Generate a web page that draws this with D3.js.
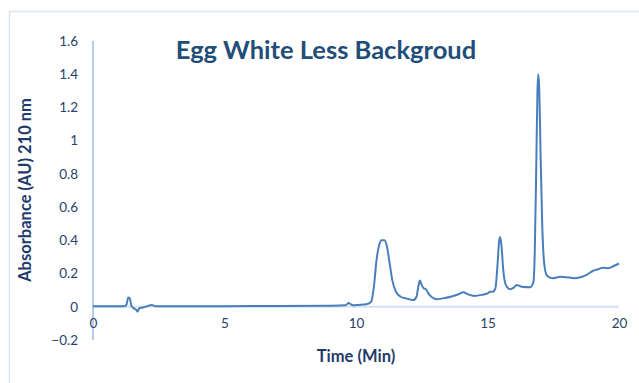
<!DOCTYPE html>
<html><head><meta charset="utf-8">
<script src="https://cdn.jsdelivr.net/npm/d3@7"></script>
<style>html,body{margin:0;padding:0;background:#fff;}svg{display:block;}</style>
</head><body>
<svg id="chart" width="639" height="383"></svg>
<script>
const title = "Egg White Less Backgroud";
const xLabel = "Time (Min)";
const yLabel = "Absorbance (AU) 210 nm";
const xTicks = [0, 5, 10, 15, 20];
const yTicks = [-0.2, 0, 0.2, 0.4, 0.6, 0.8, 1, 1.2, 1.4, 1.6];
const times = [0, 1.2, 1.28, 1.34, 1.40, 1.46, 1.55, 1.65, 1.70, 1.75, 1.9, 2.1, 2.23, 2.4, 3, 5, 7, 9, 9.6, 9.72, 9.8, 9.9, 10.0,
  10.4, 10.58, 10.68, 10.78, 10.88, 10.98, 11.08, 11.18, 11.28, 11.38, 11.52, 11.7, 11.9, 12.18, 12.30, 12.38, 12.43, 12.50, 12.58, 12.66, 12.75, 12.9, 13.07,
  13.3, 13.6, 13.9, 14.08, 14.25, 14.5, 14.8, 15.0, 15.1, 15.2, 15.3, 15.38, 15.44, 15.48, 15.53, 15.60, 15.70, 15.86, 16.0, 16.11, 16.3, 16.62,
  16.70, 16.75, 16.80, 16.85, 16.90, 16.93, 16.97, 17.02, 17.08, 17.15, 17.25, 17.38, 17.5, 17.76, 18.0, 18.3, 18.6, 18.8, 19.0, 19.2, 19.4, 19.6, 19.8, 20.0];
const absorbance = [0.003, 0.003, 0.015, 0.055, 0.05, 0.005, -0.01, -0.02, -0.03, -0.01, -0.005, 0.005, 0.01, 0.003, 0.002, 0.003, 0.004, 0.006, 0.008, 0.022, 0.015, 0.008, 0.01,
  0.015, 0.03, 0.12, 0.28, 0.37, 0.40, 0.40, 0.36, 0.26, 0.16, 0.09, 0.06, 0.05, 0.04, 0.06, 0.13, 0.157, 0.13, 0.11, 0.105, 0.08, 0.055, 0.045,
  0.05, 0.06, 0.075, 0.087, 0.075, 0.065, 0.072, 0.08, 0.09, 0.09, 0.11, 0.25, 0.39, 0.42, 0.37, 0.22, 0.13, 0.105, 0.115, 0.13, 0.12, 0.117,
  0.13, 0.15, 0.35, 0.80, 1.30, 1.40, 1.30, 0.90, 0.50, 0.27, 0.19, 0.175, 0.172, 0.18, 0.178, 0.172, 0.18, 0.195, 0.215, 0.225, 0.235, 0.232, 0.245, 0.26];

const data = times.map((t, i) => ({t, v: absorbance[i]}));
const svg = d3.select("#chart");
const font = "Lato, 'Open Sans', sans-serif";

// outer border
svg.append("rect").attr("x", 9.5).attr("y", 11.5).attr("width", 660).attr("height", 400)
  .attr("fill", "none").attr("stroke", "#dae3f3").attr("stroke-width", 1.5);

const x = d3.scaleLinear().domain([0, 20]).range([93, 619]);
const y = d3.scaleLinear().domain([-0.2, 1.6]).range([339.9, 41]);

// x axis line at y=0
svg.append("line").attr("x1", x(0)).attr("x2", x(20)).attr("y1", y(0)).attr("y2", y(0))
  .attr("stroke", "#d6e2f3").attr("stroke-width", 2);
// y axis line
svg.append("line").attr("x1", x(0)).attr("x2", x(0)).attr("y1", y(1.6)).attr("y2", y(-0.2))
  .attr("stroke", "#9dbbe3").attr("stroke-width", 1.5);

const yAxis = d3.axisLeft(y).tickValues(yTicks).tickSize(0).tickPadding(15).tickFormat(d => d3.format("")(+d.toFixed(1)));
const gy = svg.append("g").attr("transform", `translate(${x(0)},0)`).call(yAxis);
gy.select(".domain").remove();
gy.selectAll("text").attr("font-family", font).attr("font-size", 13.5).attr("fill", "#2a3f6b");

const xAxis = d3.axisBottom(x).tickValues(xTicks).tickSize(0).tickPadding(0);
const gx = svg.append("g").attr("transform", `translate(0,${y(0) + 12})`).call(xAxis);
gx.select(".domain").remove();
gx.selectAll("text").attr("font-family", font).attr("font-size", 13.5).attr("fill", "#2a3f6b");

const line = d3.line().x(d => x(d.t)).y(d => y(d.v)).curve(d3.curveMonotoneX);
svg.append("path").datum(data).attr("d", line).attr("fill", "none")
  .attr("stroke", "#4a7ebb").attr("stroke-width", 2).attr("stroke-linejoin", "round");

svg.append("text").attr("x", 326).attr("y", 59).attr("text-anchor", "middle")
  .attr("font-family", font).attr("font-weight", "bold").attr("font-size", 25.5)
  .attr("fill", "#1f4e79").text(title);

svg.append("text").attr("x", 356).attr("y", 362).attr("text-anchor", "middle")
  .attr("font-family", font).attr("font-weight", "bold").attr("font-size", 16.5)
  .attr("fill", "#1f3b6b").text(xLabel);

svg.append("text").attr("transform", "translate(31,190) rotate(-90)").attr("text-anchor", "middle")
  .attr("font-family", font).attr("font-weight", "bold").attr("font-size", 16.5)
  .attr("fill", "#1f3b6b").text(yLabel);
</script>
</body></html>
